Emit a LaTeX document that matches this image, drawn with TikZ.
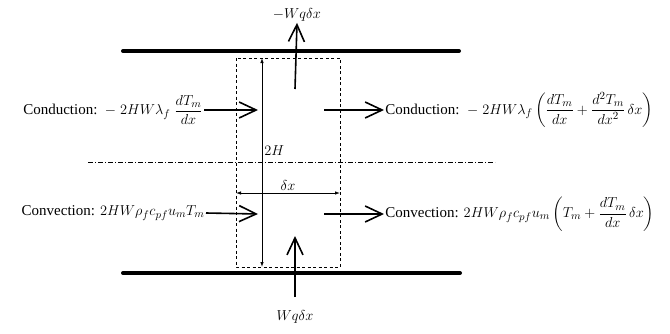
\documentclass[tikz,border=0pt]{standalone}
\usepackage{amsmath}
\usepackage{fontspec}
\setmainfont{Liberation Serif}
\usetikzlibrary{arrows.meta}

\begin{document}
\begin{tikzpicture}[x=1pt, y=-1pt, thick, font=\fontsize{15}{18}\selectfont,
  wall/.style={line width=4pt, line cap=round},
  flow/.style={line width=1.6pt, -{Straight Barb[length=17pt,width=16pt,line width=1.6pt]}},
  dim/.style={line width=0.8pt, {Latex[length=5pt,width=3.5pt]}-{Latex[length=5pt,width=3.5pt]}},
  cv/.style={line width=0.8pt, dash pattern=on 3pt off 2.5pt},
  axis/.style={line width=0.7pt, dash pattern=on 5pt off 2pt on 1pt off 2pt}]
  \useasboundingbox (0,0) rectangle (670,333);
  % walls
  \coordinate (P1) at (123,51);
  \coordinate (P2) at (459,51);
  \coordinate (P3) at (123,273);
  \coordinate (P4) at (460,273);
  % control volume
  \coordinate (A) at (236,58);
  \coordinate (B) at (340,267);
  % arrow ends
  \coordinate (E1) at (258,110);
  \coordinate (E2) at (258,214);
  \coordinate (F1) at (324,110);
  \coordinate (F2) at (324,214);
  \coordinate (Q1) at (295,89);
  \coordinate (Q2) at (295,297);
  \coordinate (Q3) at (295,236);

  \draw[wall] (P1) -- (P2);
  \draw[wall] (P3) -- (P4);
  \draw[cv] (A) rectangle (B);
  \draw[axis] (88,162) -- (495,162);

  % dimensions
  \coordinate (H1) at (262,58);
  \coordinate (H2) at (262,267);
  \coordinate (X1) at (236,193);
  \coordinate (X2) at (340,193);
  \draw[dim] (H1) -- (H2);
  \draw[dim] (X1) -- (X2);
  \node[anchor=west, inner sep=1pt] (lenH) at (263,151) {$2H$};
  \node[above, inner sep=1pt] (lenX) at (288,192) {$\delta x$};

  % heat flux
  \node[inner sep=1pt] (qT) at (297,15) {$-Wq\delta x$};
  \node[inner sep=1pt] (qB) at (295,317) {$Wq\delta x$};
  \draw[flow] (Q1) -- (qT.south);
  \draw[flow] (Q2) -- (Q3);

  % conduction and convection
  \node[anchor=east, inner sep=1pt] (condL) at (204,110)
    {Conduction:\ \ $-\;2HW\lambda_f\;\dfrac{dT_m}{dx}$};
  \node[anchor=west, inner sep=1pt] (condR) at (384,110)
    {Conduction:\ \ $-\;2HW\lambda_f\left(\dfrac{dT_m}{dx}+\dfrac{d^2T_m}{dx^2}\,\delta x\right)$};
  \node[anchor=east, inner sep=1pt] (convL) at (206,213)
    {Convection: $2HW\rho_f c_{pf} u_m T_m$};
  \node[anchor=west, inner sep=1pt] (convR) at (384,214)
    {Convection: $2HW\rho_f c_{pf} u_m\left(T_m+\dfrac{dT_m}{dx}\,\delta x\right)$};
  \draw[flow] (condL.east) -- (E1);
  \draw[flow] (convL.east) -- (E2);
  \draw[flow] (F1) -- (condR.west);
  \draw[flow] (F2) -- (convR.west);
\end{tikzpicture}
\end{document}
